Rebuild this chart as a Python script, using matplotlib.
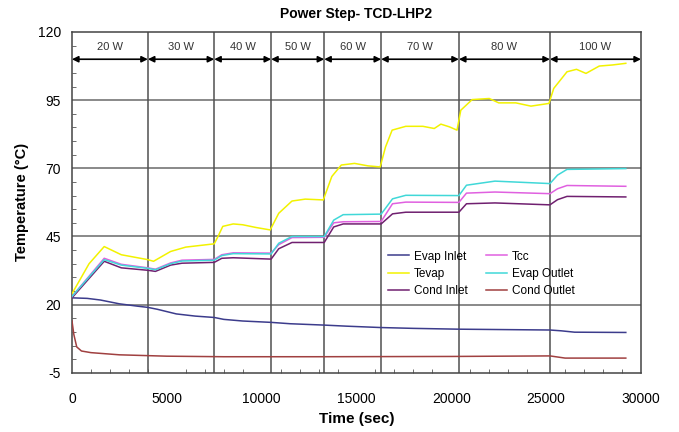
import matplotlib
matplotlib.use('Agg')
import matplotlib.pyplot as plt
from matplotlib.ticker import MultipleLocator

plt.rcParams['font.family'] = ['Liberation Sans', 'DejaVu Sans']
plt.rcParams['axes.unicode_minus'] = False

# power steps
bounds = [0, 4000, 7500, 10500, 13300, 16300, 20400, 25200, 30000]
power_labels = ['20 W', '30 W', '40 W', '50 W', '60 W', '70 W', '80 W', '100 W']

# evaporator inlet / condenser outlet
t_evap_in = [0, 800, 1500, 2500, 3500, 4000, 4500, 5500, 6500, 7500, 8000, 9000, 10500, 11500,
             13300, 14500, 16300, 18000, 20400, 22000, 25200, 25800, 26500, 29200]
evap_inlet = [22.5, 22.3, 21.7, 20.3, 19.4, 19.0, 18.3, 16.6, 15.8, 15.3, 14.6, 14.0, 13.5, 13.0,
              12.5, 12.1, 11.6, 11.3, 11.0, 10.9, 10.7, 10.4, 9.9, 9.8]

t_cond_out = [0, 100, 250, 500, 1000, 2500, 5000, 8000, 13000, 20000, 25200, 26000, 29200]
cond_outlet = [14.0, 9.0, 4.5, 3.0, 2.4, 1.6, 1.1, 0.9, 0.9, 1.0, 1.2, 0.4, 0.4]

# upper group
t_up = [0, 1700, 2600, 4000, 4400, 5200, 5800, 7500, 7900, 8500, 10500, 10900, 11600, 13300,
        13800, 14300, 16300, 16900, 17600, 20400, 20800, 22300, 25200, 25600, 26100, 29200]
evap_outlet = [23, 36.5, 34.5, 33.3, 32.8, 35.0, 36.0, 36.3, 38.0, 38.7, 38.6, 42.5, 45.0, 45.0,
               51.0, 53.0, 53.2, 58.8, 60.1, 60.0, 63.8, 65.3, 64.4, 67.5, 69.6, 69.9]
tcc = [23, 37.0, 34.8, 33.5, 33.0, 35.3, 36.3, 36.6, 38.3, 39.0, 38.9, 42.0, 44.6, 44.7,
       50.0, 50.4, 50.5, 57.0, 57.6, 57.5, 60.9, 61.3, 60.7, 62.5, 63.7, 63.4]
cond_inlet = [22.5, 35.9, 33.5, 32.6, 32.2, 34.5, 35.2, 35.5, 37.0, 37.2, 36.7, 40.5, 42.8, 42.8,
              48.5, 49.6, 49.6, 53.3, 53.9, 53.9, 57.0, 57.3, 56.6, 58.5, 59.7, 59.5]

t_tevap = [0, 900, 1700, 2600, 4000, 4300, 5200, 6000, 7500, 7700, 7950, 8500, 9000, 9700, 10450,
           10900, 11600, 12300, 13250, 13700, 14200, 14900, 15600, 16250, 16530, 16880, 17600,
           18500, 19100, 19450, 19900, 20300, 20500, 21100, 22000, 22500, 23400, 24200, 25150,
           25400, 26100, 26600, 27100, 27800, 28500, 29200]
tevap = [24, 35, 41.3, 38.3, 36.5, 35.9, 39.5, 41.1, 42.3, 45, 48.7, 49.6, 49.3, 48.3, 47.4,
         53.5, 58.0, 58.7, 58.4, 67, 71.2, 71.8, 70.9, 70.5, 77.8, 84, 85.4,
         85.4, 84.6, 86.2, 85.2, 84, 91.3, 95.2, 95.6, 94, 94, 92.8, 93.8,
         99.3, 105.4, 106.3, 104.8, 107.5, 107.9, 108.5]

fig = plt.figure(figsize=(6.79, 4.32), dpi=100)
ax = fig.add_axes([0.106, 0.137, 0.838, 0.789])

grid_c = '#6a6a6a'
for y in [20, 45, 70, 95]:
    ax.axhline(y, color=grid_c, lw=1.1, zorder=1)
for b in bounds[1:-1]:
    ax.axvline(b, color='#505050', lw=1.1, zorder=1)

lw = 1.1
ax.plot(t_evap_in, evap_inlet, color='#3c3c8c', lw=lw, label='Evap Inlet', zorder=3)
ax.plot(t_tevap, tevap, color='#f2f200', lw=lw, label='Tevap', zorder=3)
ax.plot(t_up, cond_inlet, color='#702070', lw=lw, label='Cond Inlet', zorder=3)
ax.plot(t_up, tcc, color='#e060e0', lw=lw, label='Tcc', zorder=3)
ax.plot(t_up, evap_outlet, color='#40d8d8', lw=lw, label='Evap Outlet', zorder=3)
ax.plot(t_cond_out, cond_outlet, color='#a04040', lw=lw, label='Cond Outlet', zorder=3)

# power step arrows
for i, lab in enumerate(power_labels):
    x0, x1 = bounds[i], bounds[i + 1]
    ax.annotate('', xy=(x1, 110), xytext=(x0, 110),
                arrowprops=dict(arrowstyle='<|-|>', color='black', lw=1.2,
                                mutation_scale=9, shrinkA=0, shrinkB=0), zorder=4)
    ax.text((x0 + x1) / 2, 114.5, lab, ha='center', va='center', fontsize=8, color='#333333')

ax.set_xlim(0, 30000)
ax.set_ylim(-5, 120)
ax.set_xticks(range(0, 30001, 5000))
ax.set_yticks([-5, 20, 45, 70, 95, 120])
ax.xaxis.set_minor_locator(MultipleLocator(1000))
ax.yaxis.set_minor_locator(MultipleLocator(5))
ax.tick_params(which='both', direction='in', labelsize=10)
ax.tick_params(which='major', length=0)
ax.tick_params(axis='x', which='major', pad=14)
ax.tick_params(axis='y', which='major', pad=8)
ax.tick_params(which='minor', length=3, color='#555555')
for s in ax.spines.values():
    s.set_color('#444444')
    s.set_linewidth(1.1)

ax.set_title('Power Step- TCD-LHP2', fontsize=10, fontweight='bold', pad=10)
ax.set_xlabel('Time (sec)', fontsize=11, fontweight='bold', labelpad=4)
ax.set_ylabel('Temperature (°C)', fontsize=10.5, fontweight='bold', labelpad=6)

leg = ax.legend(ncol=2, loc='upper left', bbox_to_anchor=(0.536, 0.39), fontsize=8.5,
                frameon=True, fancybox=False, framealpha=0, edgecolor='#333333',
                handlelength=1.8, handletextpad=0.4, columnspacing=1.6,
                labelspacing=0.45, borderpad=0.4)
leg.get_frame().set_linewidth(1.0)

fig.savefig('out.png', dpi=100)
